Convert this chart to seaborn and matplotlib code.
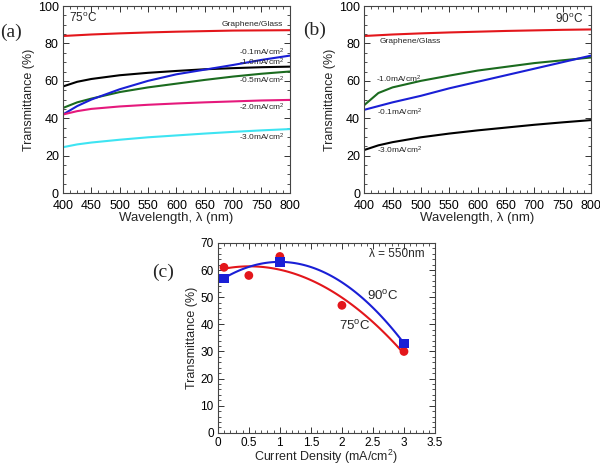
import numpy as np
import pandas as pd
import matplotlib
matplotlib.use("Agg")
import matplotlib.pyplot as plt
import seaborn as sns
from matplotlib.ticker import AutoMinorLocator, FuncFormatter

sns.set_style("ticks")
plt.rcParams['font.family'] = ['Liberation Sans', 'DejaVu Sans']
plt.rcParams['mathtext.fontset'] = 'custom'
plt.rcParams['mathtext.rm'] = 'Liberation Sans'
plt.rcParams['mathtext.it'] = 'Liberation Sans:italic'

# ---- data ----
wavelength = [400, 425, 450, 500, 550, 600, 650, 700, 750, 800]

a_glass = [84, 84.4, 84.8, 85.4, 85.9, 86.3, 86.6, 86.9, 87.0, 87.1]
a_m01 = [42, 46.5, 50, 55.5, 60, 63.5, 66, 68.5, 71.2, 73.5]
a_m10 = [57, 59.5, 61, 63, 64.3, 65.3, 66.2, 66.8, 67.3, 67.6]
a_m05 = [45.5, 48.5, 50.5, 54, 56.5, 58.5, 60.5, 62.3, 63.8, 65]
a_m20 = [42, 43.8, 45, 46.3, 47.2, 47.9, 48.5, 49, 49.5, 49.8]
a_m30 = [24.5, 26, 27, 28.5, 29.8, 30.8, 31.8, 32.7, 33.5, 34.2]

b_glass = [84, 84.4, 84.8, 85.4, 85.9, 86.3, 86.7, 87, 87.3, 87.5]
b_m10 = [47, 53.5, 56.5, 60, 62.8, 65.5, 67.5, 69.5, 71, 72.5]
b_m01 = [44.5, 46.5, 48.5, 52, 56, 59.5, 63, 66.5, 70, 73.5]
b_m30 = [23, 25.5, 27.2, 29.8, 31.8, 33.5, 35, 36.5, 37.8, 39]

c_density_75 = [0.1, 0.5, 1.0, 2.0, 3.0]
c_trans_75 = [61, 58, 65, 47, 30]
c_density_90 = [0.1, 1.0, 3.0]
c_trans_90 = [57, 63, 33]

RED = '#e3161b'
BLUE = '#1a1fd6'
GREEN = '#1b6b1f'
MAGENTA = '#e5197c'
CYAN = '#3ee4f2'
BLACK = '#000000'

fig = plt.figure(figsize=(6, 4.68), dpi=100)
ax_a = fig.add_axes([0.105, 0.5876, 0.378, 0.3994])
ax_b = fig.add_axes([0.607, 0.5876, 0.378, 0.3994])
ax_c = fig.add_axes([0.363, 0.075, 0.362, 0.406])

def style_axis(ax, xminor, yminor, xpad=5, size=9):
    ax.tick_params(which='both', direction='in', top=True, right=True, labelsize=size,
                   colors='#333333', labelcolor='black')
    ax.tick_params(axis='x', pad=xpad)
    ax.tick_params(axis='y', pad=3)
    ax.tick_params(which='major', length=4, width=0.7)
    ax.tick_params(which='minor', length=2, width=0.6)
    ax.xaxis.set_minor_locator(AutoMinorLocator(xminor))
    ax.yaxis.set_minor_locator(AutoMinorLocator(yminor))
    for s in ax.spines.values():
        s.set_linewidth(0.8)
        s.set_color('#444444')

lw = 1.5
def curve(ax, y, color):
    sns.lineplot(x=wavelength, y=y, ax=ax, color=color, linewidth=lw)

# panel a
for y, c in [(a_glass, RED), (a_m10, BLACK), (a_m05, GREEN), (a_m01, BLUE),
             (a_m20, MAGENTA), (a_m30, CYAN)]:
    curve(ax_a, y, c)
# panel b
for y, c in [(b_glass, RED), (b_m10, GREEN), (b_m01, BLUE), (b_m30, BLACK)]:
    curve(ax_b, y, c)

for ax in (ax_a, ax_b):
    ax.set_xlim(400, 800)
    ax.set_ylim(0, 100)
    ax.set_xticks(range(400, 801, 50))
    ax.set_yticks(range(0, 101, 20))
    ax.set_xlabel('Wavelength, λ (nm)', fontsize=9.5, labelpad=0)
    ax.set_ylabel('Transmittance (%)', fontsize=9, labelpad=2)
    style_axis(ax, 4, 4)

fs_small = 6
ax_a.text(787, 90, 'Graphene/Glass', fontsize=fs_small, ha='right', va='center')
ax_a.text(790, 75.4, '-0.1mA/cm$^2$', fontsize=fs_small, ha='right', va='center')
ax_a.text(790, 69.8, '-1.0mA/cm$^2$', fontsize=fs_small, ha='right', va='center')
ax_a.text(790, 60.4, '-0.5mA/cm$^2$', fontsize=fs_small, ha='right', va='center')
ax_a.text(790, 46, '-2.0mA/cm$^2$', fontsize=fs_small, ha='right', va='center')
ax_a.text(790, 30, '-3.0mA/cm$^2$', fontsize=fs_small, ha='right', va='center')
ax_a.text(410, 93.5, '75$^{\\rm o}$C', fontsize=8.5, ha='left', va='center')

ax_b.text(428, 81, 'Graphene/Glass', fontsize=fs_small, ha='left', va='center')
ax_b.text(421, 60.8, '-1.0mA/cm$^2$', fontsize=fs_small, ha='left', va='center')
ax_b.text(423, 43, '-0.1mA/cm$^2$', fontsize=fs_small, ha='left', va='center')
ax_b.text(423, 22.8, '-3.0mA/cm$^2$', fontsize=fs_small, ha='left', va='center')
ax_b.text(786, 93, '90$^{\\rm o}$C', fontsize=8.5, ha='right', va='center')

# panel c
sns.regplot(x=c_density_75, y=c_trans_75, order=2, ci=None, ax=ax_c, color=RED,
            scatter=False, line_kws=dict(linewidth=lw))
sns.regplot(x=c_density_90, y=c_trans_90, order=2, ci=None, ax=ax_c, color=BLUE,
            scatter=False, line_kws=dict(linewidth=lw))
sns.scatterplot(x=c_density_75, y=c_trans_75, ax=ax_c, color=RED, marker='o', s=40,
                edgecolor='none', zorder=5)
sns.scatterplot(x=c_density_90, y=c_trans_90, ax=ax_c, color=BLUE, marker='s', s=45,
                edgecolor='none', zorder=6)
ax_c.set_xlim(0, 3.5)
ax_c.set_ylim(0, 70)
ax_c.set_xticks(np.arange(0, 3.51, 0.5))
ax_c.set_yticks(range(0, 71, 10))
ax_c.xaxis.set_major_formatter(FuncFormatter(lambda v, p: f'{v:g}'))
ax_c.set_xlabel('Current Density (mA/cm$^2$)', fontsize=9, labelpad=-1)
ax_c.set_ylabel('Transmittance (%)', fontsize=9, labelpad=2)
style_axis(ax_c, 5, 5, xpad=3, size=8.5)
ax_c.text(3.34, 66, 'λ = 550nm', fontsize=8.5, ha='right', va='center')
ax_c.text(2.4, 50.5, '90$^{\\rm o}$C', fontsize=9.5, ha='left', va='center')
ax_c.text(1.95, 39.3, '75$^{\\rm o}$C', fontsize=9.5, ha='left', va='center')

serif = ['Liberation Serif', 'DejaVu Serif']
fig.text(0.0, 1 - 32 / 468, '(a)', fontsize=14, family=serif, ha='left', va='center')
fig.text(303 / 600, 1 - 30 / 468, '(b)', fontsize=14, family=serif, ha='left', va='center')
fig.text(152 / 600, 1 - 272 / 468, '(c)', fontsize=14, family=serif, ha='left', va='center')

fig.savefig('out.png', dpi=100)
